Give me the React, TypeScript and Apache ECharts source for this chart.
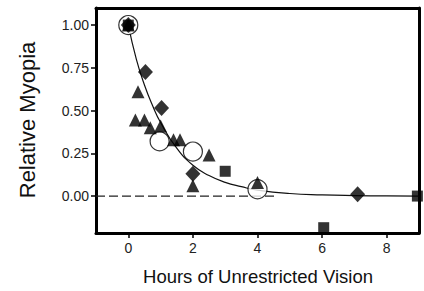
import React, { useEffect, useRef } from "react";
import * as echarts from "echarts";

const yTicks = [0, 0.25, 0.5, 0.75, 1.0];
const xTicks = [0, 2, 4, 6, 8];
const xTitle = "Hours of Unrestricted Vision";
const yTitle = "Relative Myopia";

const circlePts: [number, number][] = [
  [0, 1.0], [0.97, 0.32], [2.0, 0.26], [4.0, 0.04],
];
const diamondPts: [number, number][] = [
  [0, 1.0], [0.53, 0.725], [1.03, 0.515], [2.0, 0.13], [7.1, 0.01],
];
const trianglePts: [number, number][] = [
  [0, 1.0], [0.3, 0.61], [0.22, 0.445], [0.5, 0.445], [0.68, 0.4], [1.0, 0.41],
  [1.4, 0.33], [1.6, 0.33], [2.0, 0.06], [2.5, 0.24], [4.0, 0.08],
];
const squarePts: [number, number][] = [
  [0, 1.0], [3.0, 0.145], [6.05, -0.185], [8.95, 0.0],
];
const curveX = [0, 0.25, 0.5, 0.75, 1, 1.5, 2, 2.5, 3, 3.5, 4, 5, 6, 7, 8, 9];
const curveY = [1.0, 0.8, 0.65, 0.53, 0.43, 0.28, 0.18, 0.12, 0.08, 0.055, 0.035, 0.015, 0.007, 0.003, 0.001, 0.0];
const zeroLine: [number, number][] = [[-1, 0], [4.6, 0]];

export default function App() {
  const ref = useRef<HTMLDivElement>(null);
  useEffect(() => {
    if (!ref.current) return;
    const chart = echarts.init(ref.current, undefined, { renderer: "svg" });
    const font = "'Liberation Sans', Arial, sans-serif";
    const frameLine = { show: true, onZero: false, lineStyle: { color: "#000", width: 3 } };
    chart.setOption({
      animation: false,
      grid: { left: 96, top: 8, right: 5, bottom: 58 },
      graphic: [
        {
          type: "text", x: 27, y: 120, rotation: Math.PI / 2,
          style: {
            text: yTitle, fontFamily: font, fontSize: 22, fill: "#111",
            textAlign: "center", textVerticalAlign: "middle",
          },
        },
        {
          type: "text", x: 258, y: 276,
          style: {
            text: xTitle, fontFamily: font, fontSize: 18.5, fill: "#111",
            textAlign: "center", textVerticalAlign: "middle",
          },
        },
      ],
      xAxis: [
        {
          type: "value", min: -1, max: 9,
          axisLine: frameLine,
          splitLine: { show: false },
          axisTick: { show: true, customValues: xTicks, length: 5, lineStyle: { color: "#000", width: 1.5 } },
          axisLabel: { customValues: xTicks, fontFamily: font, fontSize: 14, color: "#222", margin: 8 },
        },
        {
          type: "value", min: -1, max: 9, position: "top",
          axisLine: frameLine, axisTick: { show: false }, axisLabel: { show: false }, splitLine: { show: false },
        },
      ],
      yAxis: [
        {
          type: "value", min: -0.216, max: 1.1,
          axisLine: frameLine,
          splitLine: { show: false },
          axisTick: { show: true, customValues: yTicks, length: 5, lineStyle: { color: "#000", width: 1.5 } },
          axisLabel: {
            customValues: yTicks, fontFamily: font, fontSize: 14, color: "#222", margin: 7,
            formatter: (v: number) => v.toFixed(2),
          },
        },
        {
          type: "value", min: -0.216, max: 1.1, position: "right",
          axisLine: frameLine, axisTick: { show: false }, axisLabel: { show: false }, splitLine: { show: false },
        },
      ],
      series: [
        {
          type: "line", data: zeroLine, symbol: "none", silent: true,
          lineStyle: { color: "#222", width: 1.2, type: [9, 4] }, z: 1,
        },
        {
          type: "line", data: curveX.map((x, i) => [x, curveY[i]]), symbol: "none", smooth: true,
          lineStyle: { color: "#111", width: 1.2 }, z: 2,
        },
        {
          type: "scatter", data: circlePts, symbol: "circle", symbolSize: 19,
          itemStyle: { color: "#fff", borderColor: "#000", borderWidth: 1.2 }, z: 3,
        },
        {
          type: "scatter", data: trianglePts, symbol: "triangle", symbolSize: 13,
          itemStyle: { color: "#000" }, z: 4,
        },
        {
          type: "scatter", data: diamondPts, symbol: "diamond", symbolSize: [15, 16],
          itemStyle: { color: "#000" }, z: 4,
        },
        {
          type: "scatter", data: squarePts, symbol: "rect", symbolSize: 11,
          itemStyle: { color: "#000" }, z: 4,
        },
      ],
    });
    return () => chart.dispose();
  }, []);
  return <div ref={ref} style={{ width: 424, height: 291, position: "absolute", left: 0, top: 0 }} />;
}
